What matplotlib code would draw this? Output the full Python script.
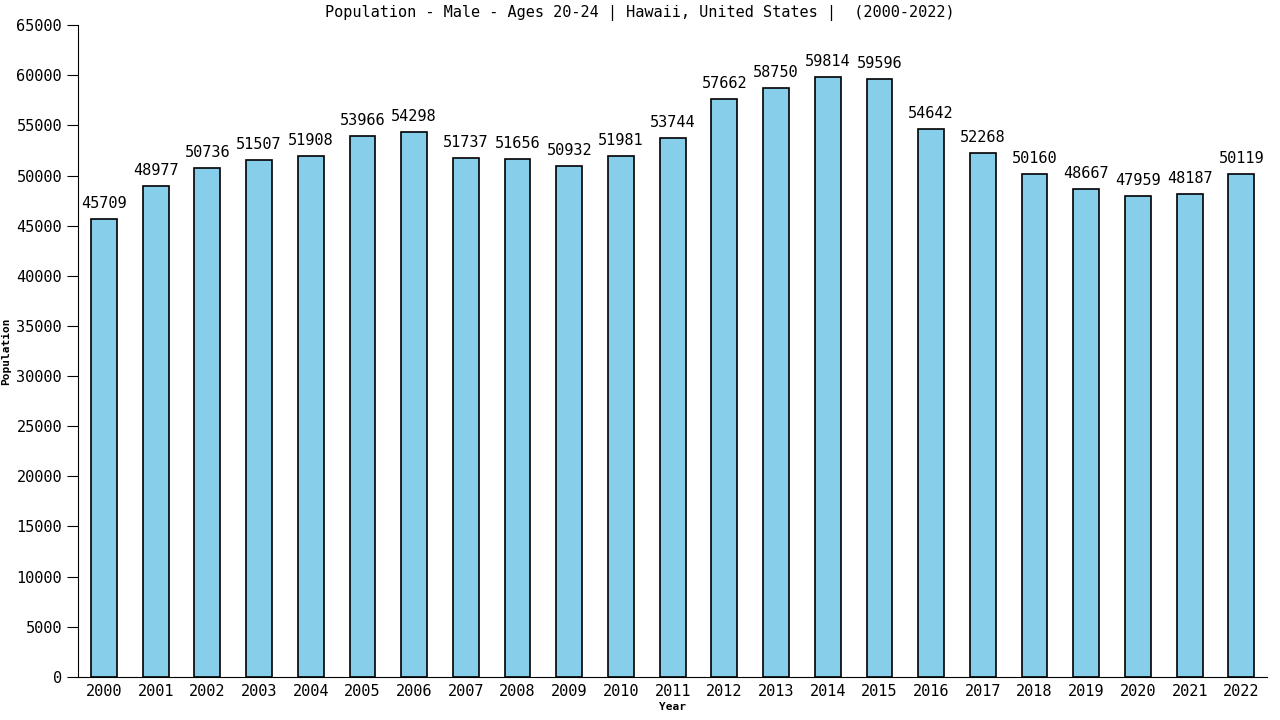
import matplotlib
matplotlib.use("Agg")
import matplotlib.pyplot as plt

years = list(range(2000, 2023))
population = [45709, 48977, 50736, 51507, 51908, 53966, 54298, 51737, 51656, 50932,
              51981, 53744, 57662, 58750, 59814, 59596, 54642, 52268, 50160, 48667,
              47959, 48187, 50119]
yticks = list(range(0, 65001, 5000))

plt.rcParams['font.family'] = ['DejaVu Sans Mono']

fig = plt.figure(figsize=(12.8, 7.2), dpi=100)
ax = fig.add_axes([0.061, 0.06, 0.929, 0.905])

x = range(len(years))
ax.bar(x, population, width=0.5, color="#87CEEB", edgecolor="black", linewidth=1.2)
for i, v in zip(x, population):
    ax.text(i, v + 800, str(v), ha="center", va="bottom", fontsize=11)

ax.set_xlim(-0.5, len(years) - 0.5)
ax.set_ylim(0, 65000)
ax.set_yticks(yticks)
ax.set_yticklabels([str(t) for t in yticks], fontsize=11)
ax.set_xticks(list(x))
ax.set_xticklabels([str(y) for y in years], fontsize=11)
ax.spines["top"].set_visible(False)
ax.spines["right"].set_visible(False)
ax.tick_params(axis="y", length=8, direction="out")
ax.tick_params(axis="x", length=0, pad=5)

fig.text(0.5, 0.982, "Population - Male - Ages 20-24 | Hawaii, United States |  (2000-2022)",
         ha="center", va="center", fontsize=11)
ax.set_xlabel("Year", fontsize=8, fontweight="bold", labelpad=2)
ax.set_ylabel("Population", fontsize=8, fontweight="bold", labelpad=4)

fig.savefig("out.png", dpi=100)
